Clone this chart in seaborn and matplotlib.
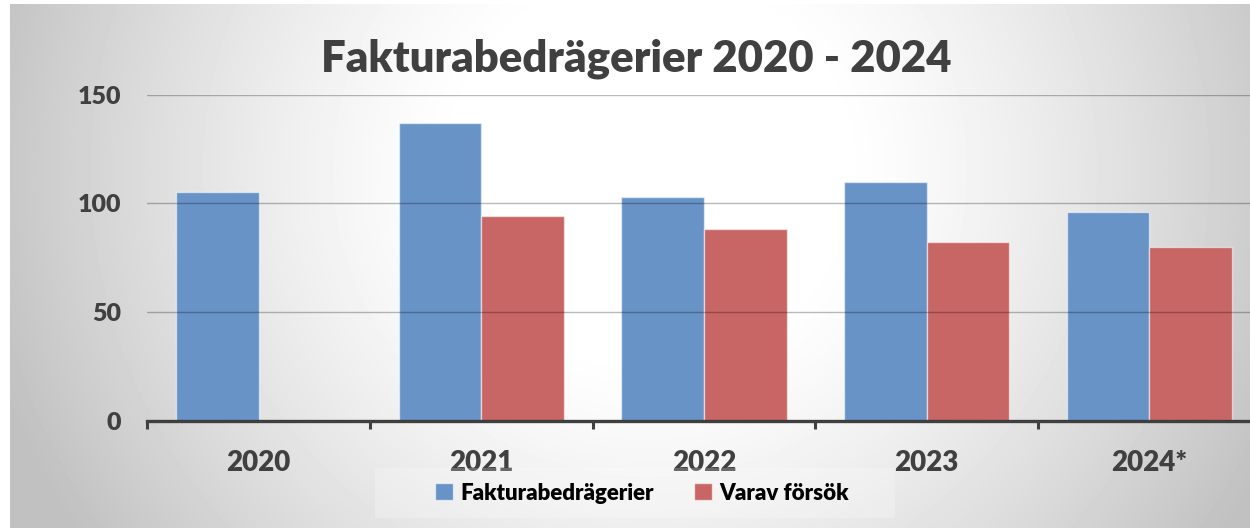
import numpy as np
import pandas as pd
import matplotlib
matplotlib.use("Agg")
import matplotlib.pyplot as plt
from matplotlib.patches import Patch, Rectangle
import seaborn as sns

# ---- data ----
years = ["2020", "2021", "2022", "2023", "2024*"]
faktura = [105, 137, 103, 110, 96]
forsok = [np.nan, 94, 88, 82, 80]
series_names = ["Fakturabedrägerier", "Varav försök"]
yticks = [0, 50, 100, 150]
title = "Fakturabedrägerier 2020 - 2024"

BLUE = "#6793C6"
RED = "#C76664"
DARK = "#404040"
WEIGHT = "heavy"

sns.set_theme(style="white")
plt.rcParams["font.family"] = ["Lato", "DejaVu Sans"]
plt.rcParams["font.weight"] = WEIGHT

df = pd.DataFrame({
    "year": years * 2,
    "serie": [series_names[0]] * len(years) + [series_names[1]] * len(years),
    "value": faktura + forsok,
})

W, H = 1250, 528
fig = plt.figure(figsize=(W / 100, H / 100), dpi=100)
fig.patch.set_facecolor("white")

# radial gradient background of the chart area
bg = fig.add_axes([10 / W, 0, 1 - 10 / W, 524 / H], zorder=-10)
xs = np.arange(10, W) + 0.5
ys = np.arange(4, H) + 0.5
X, Y = np.meshgrid(xs, ys)
r = np.sqrt(((X - 650) / 620) ** 2 + ((Y - 170) / 600) ** 2)
t = np.clip((r - 0.3) / 0.8, 0, 1) ** 1.3
val = (255 - 62 * t) / 255
bg.imshow(val, cmap="gray", vmin=0, vmax=1, aspect="auto",
          extent=[0, 1, 0, 1], interpolation="bilinear")
bg.axis("off")

# plot axes
x0, x1 = 147.3, 1260.8
y0, y1 = 420.5, 94.7
ax = fig.add_axes([x0 / W, (H - y0) / H, (x1 - x0) / W, (y0 - y1) / H])
ax.patch.set_alpha(0)

sns.barplot(data=df, x="year", y="value", hue="serie",
            palette={series_names[0]: BLUE, series_names[1]: RED},
            width=0.743, saturation=1, errorbar=None, ax=ax,
            edgecolor=(1, 1, 1, 0.55), linewidth=1, legend=False)

ax.set_xlim(-0.5, len(years) - 0.5)
ax.set_ylim(0, 150)
ax.set_xlabel("")
ax.set_ylabel("")
ax.set_axisbelow(False)
ax.yaxis.grid(True, color="black", alpha=0.27, lw=1)
ax.xaxis.grid(False)

ax.set_yticks(yticks)
ax.set_yticklabels([str(v) for v in yticks])
ax.tick_params(axis="y", length=0, pad=19, labelsize=18, labelcolor=DARK)

ax.set_xticks(range(len(years)))
ax.set_xticklabels(years)
ax.set_xticks(np.arange(-0.5, len(years)), minor=True)
ax.tick_params(axis="x", which="major", length=0, pad=21, labelsize=20, labelcolor=DARK)
ax.tick_params(axis="x", which="minor", length=6, width=2.2, color=DARK, direction="out", bottom=True)
for lab in ax.get_xticklabels() + ax.get_yticklabels():
    lab.set_fontweight(WEIGHT)

for s in ["left", "top", "right"]:
    ax.spines[s].set_visible(False)
ax.spines["bottom"].set_color(DARK)
ax.spines["bottom"].set_linewidth(2.4)

# title
fig.text(636 / W, 1 - 71.7 / H, title, ha="center", va="baseline",
         fontsize=31.5, fontweight=WEIGHT, color=DARK)

# legend background band
fig.patches.append(Rectangle((375 / W, 1 - 518 / H), 520 / W, 50 / H,
                             transform=fig.transFigure, facecolor="white",
                             alpha=0.22, edgecolor="none", zorder=0))
handles = [Patch(facecolor=BLUE, edgecolor=(1, 1, 1, 0.6)),
           Patch(facecolor=RED, edgecolor=(1, 1, 1, 0.6))]
fig.legend(handles=handles, labels=series_names, loc="center",
           bbox_to_anchor=(642 / W, 1 - 493 / H), ncol=2, frameon=False,
           prop={"size": 16, "weight": WEIGHT}, handlelength=0.8,
           handleheight=0.8, handletextpad=0.35, columnspacing=1.8,
           labelcolor="black")

fig.savefig("out.png", dpi=100)
